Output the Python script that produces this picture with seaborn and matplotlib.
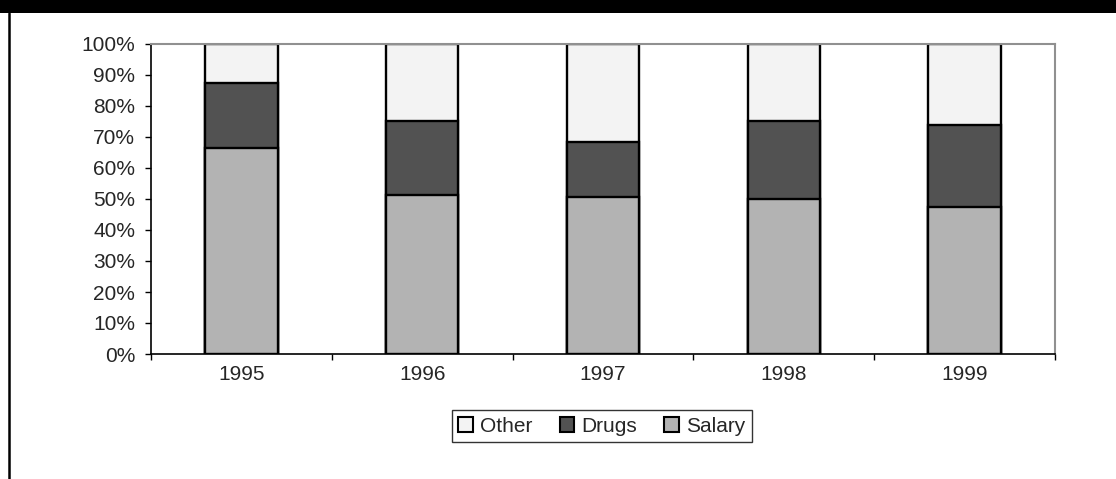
import pandas as pd
import matplotlib.pyplot as plt
import seaborn as sns
from matplotlib.patches import Patch, Rectangle
from matplotlib.lines import Line2D
from matplotlib.ticker import PercentFormatter, FixedLocator

years = ['1995', '1996', '1997', '1998', '1999']
salary = [66.5, 51.3, 50.5, 49.9, 47.3]
drugs = [21.0, 24.0, 17.8, 25.4, 26.6]
other = [round(100 - s - d, 1) for s, d in zip(salary, drugs)]

colors = {'Other': '#f3f3f3', 'Drugs': '#525252', 'Salary': '#b3b3b3'}

df = pd.DataFrame({'Year': years, 'Salary': salary, 'Drugs': drugs, 'Other': other})
df['top_drugs'] = df['Salary'] + df['Drugs']
df['top_other'] = df['top_drugs'] + df['Other']

sns.set_style('white')
plt.rcParams['font.family'] = ['Liberation Sans', 'DejaVu Sans']

fig = plt.figure(figsize=(11.16, 4.79), dpi=100)
ax = fig.add_axes([151 / 1116, 1 - 354 / 479, 904 / 1116, 310 / 479])

# stacked bars drawn as overlapping cumulative totals
for col, name in [('top_other', 'Other'), ('top_drugs', 'Drugs'), ('Salary', 'Salary')]:
    sns.barplot(data=df, x='Year', y=col, color=colors[name], width=0.4,
                edgecolor='black', linewidth=1.7, saturation=1, ax=ax)

ax.set_xlim(-0.5, 4.5)
ax.set_ylim(0, 100)
ax.set_xlabel('')
ax.set_ylabel('')
ax.yaxis.set_major_locator(FixedLocator(range(0, 101, 10)))
ax.yaxis.set_major_formatter(PercentFormatter(decimals=0))
ax.xaxis.set_minor_locator(FixedLocator([i - 0.5 for i in range(6)]))
ax.tick_params(axis='x', which='major', length=0, pad=8, labelsize=15)
ax.tick_params(axis='x', which='minor', length=4, width=1, color='black', direction='out', bottom=True)
ax.tick_params(axis='y', length=4, width=1, color='black', direction='out', left=True, pad=7.5, labelsize=15)

for side in ['left', 'bottom']:
    ax.spines[side].set_color('black')
    ax.spines[side].set_linewidth(1.2)
for side in ['top', 'right']:
    ax.spines[side].set_visible(True)
    ax.spines[side].set_color('#909090')
    ax.spines[side].set_linewidth(1.5)

handles = [Patch(facecolor=colors[n], edgecolor='black', linewidth=1.5, label=n)
           for n in ['Other', 'Drugs', 'Salary']]
leg = fig.legend(handles=handles, ncol=3, loc='center', bbox_to_anchor=(602 / 1116, 1 - 426 / 479),
                 frameon=True, fancybox=False, edgecolor='black', fontsize=15,
                 handlelength=0.7, handleheight=0.7, handletextpad=0.35, columnspacing=1.3,
                 borderpad=0.3, borderaxespad=0)
leg.get_frame().set_linewidth(1.0)

# black band on top and left border line
fig.add_artist(Rectangle((0, 1 - 13 / 479), 1, 13 / 479, transform=fig.transFigure,
                         facecolor='black', edgecolor='none'))
fig.add_artist(Line2D([8.7 / 1116, 8.7 / 1116], [0, 1 - 13 / 479], transform=fig.transFigure,
                      color='black', linewidth=1.8))

fig.savefig('out.png', dpi=100)
